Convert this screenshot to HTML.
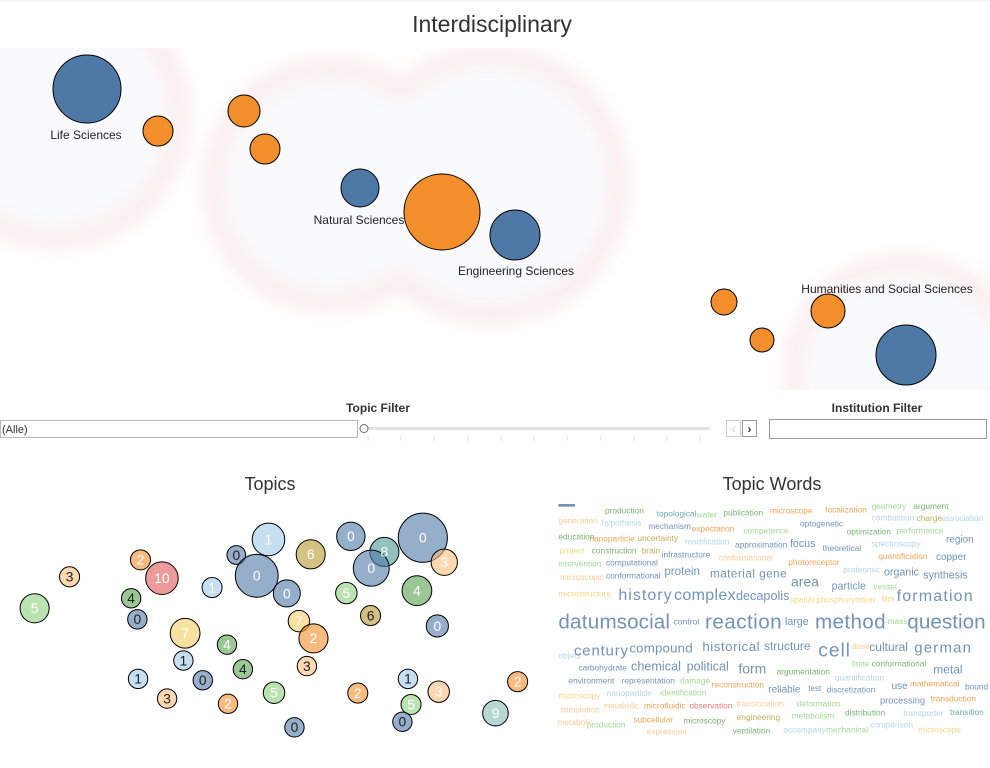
<!DOCTYPE html>
<html><head><meta charset="utf-8"><style>
body{margin:0;background:#fff;width:990px;height:763px;overflow:hidden;font-family:"Liberation Sans",sans-serif}
</style></head><body>
<svg width="990" height="763" xmlns="http://www.w3.org/2000/svg" font-family="Liberation Sans, sans-serif">
<defs>
<filter id="bl" x="-30%" y="-30%" width="160%" height="160%"><feGaussianBlur stdDeviation="9"/></filter>
<clipPath id="mapc"><rect x="0" y="48" width="990" height="342"/></clipPath>
<clipPath id="wc"><rect x="556" y="500" width="434" height="240"/></clipPath>
</defs>
<line x1="0" y1="1" x2="990" y2="1" stroke="#eee"/>
<text x="492" y="32" text-anchor="middle" font-size="23" fill="#333">Interdisciplinary</text>
<g clip-path="url(#mapc)">
 <g filter="url(#bl)">
  <circle cx="55" cy="115" r="135" fill="#fbeded"/>
  <circle cx="330" cy="185" r="128" fill="#fbeded"/>
  <circle cx="490" cy="185" r="140" fill="#fbeded"/>
  <circle cx="905" cy="375" r="122" fill="#fbeded"/>
  <circle cx="55" cy="115" r="115" fill="#f9fafc"/>
  <circle cx="330" cy="185" r="108" fill="#f9fafc"/>
  <circle cx="490" cy="185" r="120" fill="#f9fafc"/>
  <circle cx="905" cy="375" r="103" fill="#f9fafc"/>
 </g>
 <g stroke="#000" stroke-width="1">
  <circle cx="87" cy="89" r="34" fill="#4e79a7"/>
  <circle cx="158" cy="131" r="15" fill="#f28e2b"/>
  <circle cx="244" cy="111" r="16" fill="#f28e2b"/>
  <circle cx="265" cy="149" r="15" fill="#f28e2b"/>
  <circle cx="360" cy="188" r="19" fill="#4e79a7"/>
  <circle cx="442" cy="212" r="38" fill="#f28e2b"/>
  <circle cx="515" cy="235" r="25" fill="#4e79a7"/>
  <circle cx="724" cy="302" r="13" fill="#f28e2b"/>
  <circle cx="762" cy="340" r="12" fill="#f28e2b"/>
  <circle cx="828" cy="311" r="17" fill="#f28e2b"/>
  <circle cx="906" cy="355" r="30" fill="#4e79a7"/>
 </g>
 <g font-size="12" fill="#222">
  <text x="86" y="139" text-anchor="middle">Life Sciences</text>
  <text x="359" y="224" text-anchor="middle">Natural Sciences</text>
  <text x="516" y="275" text-anchor="middle">Engineering Sciences</text>
  <text x="887" y="293" text-anchor="middle">Humanities and Social Sciences</text>
 </g>
</g>
<text x="378" y="412" text-anchor="middle" font-size="12" font-weight="bold" fill="#333">Topic Filter</text>
<text x="877" y="412" text-anchor="middle" font-size="12" font-weight="bold" fill="#333">Institution Filter</text>
<rect x="0.5" y="420.5" width="357" height="17" fill="#fff" stroke="#bbb"/>
<text x="2" y="433" font-size="11" fill="#333">(Alle)</text>
<rect x="366" y="427" width="344" height="3" fill="#e3e3e3"/>
<circle cx="364" cy="428.5" r="4" fill="#fff" stroke="#666"/>
<g stroke="#ddd">
<line x1="368" y1="436" x2="368" y2="441"/><line x1="401" y1="436" x2="401" y2="441"/><line x1="434" y1="436" x2="434" y2="441"/><line x1="468" y1="436" x2="468" y2="441"/><line x1="501" y1="436" x2="501" y2="441"/><line x1="534" y1="436" x2="534" y2="441"/><line x1="567" y1="436" x2="567" y2="441"/><line x1="601" y1="436" x2="601" y2="441"/><line x1="634" y1="436" x2="634" y2="441"/><line x1="667" y1="436" x2="667" y2="441"/><line x1="700" y1="436" x2="700" y2="441"/>
</g>
<rect x="726.5" y="420.5" width="14" height="16" fill="#fff" stroke="#ccc"/>
<text x="733.5" y="433" text-anchor="middle" font-size="12" fill="#ccc">‹</text>
<rect x="742.5" y="420.5" width="14" height="16" fill="#fff" stroke="#999"/>
<text x="749.5" y="433" text-anchor="middle" font-size="12" font-weight="bold" fill="#333">›</text>
<rect x="769.5" y="419.5" width="217" height="19" fill="#fff" stroke="#999"/>
<text x="270" y="490" text-anchor="middle" font-size="18" fill="#333">Topics</text>
<text x="772" y="490" text-anchor="middle" font-size="18" fill="#333">Topic Words</text>
<g transform="translate(0,500) scale(0.346)" stroke="#000" stroke-width="2.9" font-size="40" text-anchor="middle">
<g fill-opacity="0.6">
<circle cx="100" cy="313" r="42" fill="#8cd17d"/>
<circle cx="201" cy="222" r="29" fill="#ffbe7d"/>
<circle cx="406" cy="173" r="29" fill="#f28e2b"/>
<circle cx="468" cy="226" r="47" fill="#e15759"/>
<circle cx="379" cy="284" r="28" fill="#59a14f"/>
<circle cx="397" cy="345" r="28" fill="#4e79a7"/>
<circle cx="613" cy="253" r="29" fill="#a0cbe8"/>
<circle cx="535" cy="385" r="43" fill="#f1ce63"/>
<circle cx="530" cy="464" r="28" fill="#a0cbe8"/>
<circle cx="399" cy="517" r="28" fill="#a0cbe8"/>
<circle cx="483" cy="574" r="28" fill="#ffbe7d"/>
<circle cx="586" cy="521" r="28" fill="#4e79a7"/>
<circle cx="656" cy="418" r="28" fill="#59a14f"/>
<circle cx="702" cy="489" r="28" fill="#59a14f"/>
<circle cx="659" cy="589" r="28" fill="#f28e2b"/>
<circle cx="792" cy="557" r="31" fill="#8cd17d"/>
<circle cx="851" cy="657" r="28" fill="#4e79a7"/>
<circle cx="683" cy="159" r="27" fill="#4e79a7"/>
<circle cx="776" cy="114" r="47" fill="#a0cbe8"/>
<circle cx="742" cy="219" r="62" fill="#4e79a7"/>
<circle cx="829" cy="270" r="39" fill="#4e79a7"/>
<circle cx="898" cy="157" r="42" fill="#b6992d"/>
<circle cx="864" cy="350" r="31" fill="#f1ce63"/>
<circle cx="906" cy="400" r="42" fill="#f28e2b"/>
<circle cx="887" cy="480" r="28" fill="#ffbe7d"/>
<circle cx="1014" cy="105" r="41" fill="#4e79a7"/>
<circle cx="1111" cy="150" r="42" fill="#499894"/>
<circle cx="1073" cy="197" r="52" fill="#4e79a7"/>
<circle cx="1001" cy="269" r="31" fill="#8cd17d"/>
<circle cx="1071" cy="334" r="29" fill="#b6992d"/>
<circle cx="1222" cy="109" r="71" fill="#4e79a7"/>
<circle cx="1284" cy="180" r="38" fill="#ffbe7d"/>
<circle cx="1205" cy="262" r="43" fill="#59a14f"/>
<circle cx="1264" cy="364" r="32" fill="#4e79a7"/>
<circle cx="1034" cy="558" r="29" fill="#f28e2b"/>
<circle cx="1179" cy="517" r="28" fill="#a0cbe8"/>
<circle cx="1188" cy="591" r="29" fill="#8cd17d"/>
<circle cx="1163" cy="641" r="28" fill="#4e79a7"/>
<circle cx="1268" cy="554" r="31" fill="#ffbe7d"/>
<circle cx="1432" cy="616" r="37" fill="#86bcb6"/>
<circle cx="1496" cy="525" r="29" fill="#f28e2b"/>
</g>
<g stroke="none" fill="#fff">
<text x="100" y="327">5</text><text x="468" y="240">10</text><text x="406" y="187">2</text>
<text x="613" y="267">1</text><text x="535" y="399">7</text><text x="656" y="432">4</text>
<text x="792" y="571">5</text><text x="659" y="603">2</text><text x="776" y="128">1</text>
<text x="742" y="233">0</text><text x="829" y="284">0</text><text x="898" y="171">6</text>
<text x="864" y="364">7</text><text x="906" y="414">2</text><text x="1014" y="119">0</text>
<text x="1111" y="164">8</text><text x="1073" y="211">0</text><text x="1001" y="283">5</text>
<text x="1222" y="123">0</text><text x="1284" y="194">3</text><text x="1205" y="276">4</text>
<text x="1264" y="378">0</text><text x="1034" y="572">2</text><text x="1188" y="605">5</text>
<text x="1268" y="568">3</text><text x="1432" y="630">9</text><text x="1496" y="539">2</text>
</g>
<g stroke="none" fill="#222">
<text x="201" y="236">3</text><text x="379" y="298">4</text><text x="397" y="359">0</text>
<text x="530" y="478">1</text><text x="399" y="531">1</text><text x="483" y="588">3</text>
<text x="586" y="535">0</text><text x="702" y="503">4</text><text x="851" y="671">0</text>
<text x="683" y="173">0</text><text x="887" y="494">3</text><text x="1071" y="348">6</text>
<text x="1179" y="531">1</text><text x="1163" y="655">0</text>
</g>
</g>
<g clip-path="url(#wc)"><g transform="translate(550,495) scale(0.3333)" opacity="0.8" font-size="25">
<rect x="25" y="27" width="50" height="8" fill="#4e79a7"/>
<g fill="#59a14f"><text x="165" y="55">production</text><text x="520" y="62">publication</text><text x="1090" y="42">argument</text><text x="125" y="175">construction</text><text x="890" y="118">optimization</text><text x="580" y="115" fill="#8cd17d">competence</text><text x="680" y="538">argumentation</text><text x="965" y="514" fill="#59a14f">conformational</text><text x="400" y="685">microscopy</text><text x="885" y="662">distribution</text><text x="548" y="716">ventilation</text><text x="740" y="635" fill="#8cd17d">deformation</text><text x="725" y="670" fill="#8cd17d">metabolism</text><text x="110" y="697" fill="#8cd17d">production</text><text x="330" y="602" fill="#8cd17d">identification</text><text x="390" y="566" fill="#8cd17d">damage</text><text x="828" y="712" fill="#8cd17d">mechanical</text><text x="905" y="514" fill="#8cd17d">finite</text><text x="1013" y="387" fill="#8cd17d">mass</text><text x="25" y="215" fill="#8cd17d">intervention</text><text x="965" y="42" fill="#8cd17d">geometry</text><text x="1040" y="115" fill="#8cd17d">performance</text><text x="970" y="283" fill="#8cd17d">vessel</text></g>
<g fill="#499894"><text x="320" y="65">topological</text><text x="440" y="68" fill="#8cd17d">water</text><text x="1200" y="660">transition</text></g>
<g fill="#f28e2b"><text x="660" y="55">microscope</text><text x="827" y="52">localization</text><text x="425" y="110">expectation</text><text x="118" y="140">nanoparticle</text><text x="715" y="210">photoreceptor</text><text x="985" y="192">quantification</text><text x="1080" y="575">mathematical</text><text x="1142" y="620">transduction</text><text x="250" y="683">subcellular</text><text x="282" y="640">microfluidic</text><text x="485" y="578">reconstruction</text><text x="1100" y="78" fill="#b6992d">charge</text><text x="995" y="320" fill="#f1ce63">film</text></g>
<g fill="#ffbe7d"><text x="25" y="85">generation</text><text x="505" y="197">conformational</text><text x="30" y="255">microscopic</text><text x="720" y="323" fill="#f1ce63">spatial phosphorylation</text><text x="160" y="640">metabolic</text><text x="560" y="635">translocation</text><text x="290" y="718">expression</text><text x="30" y="652">stimulation</text><text x="25" y="610" fill="#f1ce63">microscopy</text><text x="905" y="462">dose</text><text x="25" y="305" fill="#f1ce63">microstructure</text><text x="28" y="176" fill="#f1ce63">project</text><text x="262" y="138" fill="#b6992d">uncertainty</text><text x="275" y="175" fill="#b6992d">brain</text><text x="560" y="675" fill="#b6992d">engineering</text><text x="1105" y="713" fill="#f1ce63">microscope</text><text x="22" y="690">metabolic</text><text x="25" y="133" fill="#59a14f">education</text></g>
<g fill="#a0cbe8"><text x="155" y="92">hypothesis</text><text x="405" y="148">modification</text><text x="965" y="155">spectroscopy</text><text x="1175" y="78">association</text><text x="880" y="233">proteomic</text><text x="965" y="77">combustion</text><text x="855" y="557">quantification</text><text x="170" y="603">nanoparticle</text><text x="1060" y="663">transporter</text><text x="700" y="712">accompany</text><text x="960" y="698">comparison</text><text x="25" y="490">object</text><text x="418" y="640" fill="#e15759">observation</text></g>
<g fill="#4e79a7"><text x="295" y="102">mechanism</text><text x="750" y="95">optogenetic</text><text x="555" y="158">approximation</text><text x="818" y="168">theoretical</text><text x="335" y="188">infrastructure</text><text x="168" y="212">computational</text><text x="168" y="250">conformational</text><text x="85" y="527">carbohydrate</text><text x="55" y="565">environment</text><text x="215" y="565">representation</text><text x="830" y="592">discretization</text><text x="1245" y="584">bound</text></g>
<g fill="#4e79a7">
<text x="720" y="156" font-size="32">focus</text>
<text x="1188" y="142" font-size="30">region</text>
<text x="1158" y="195" font-size="30">copper</text>
<text x="343" y="240" font-size="35">protein</text>
<text x="480" y="247" font-size="35" textLength="230">material gene</text>
<text x="1002" y="242" font-size="32">organic</text>
<text x="1120" y="250" font-size="32">synthesis</text>
<text x="723" y="275" font-size="42">area</text>
<text x="845" y="283" font-size="32">particle</text>
<text x="205" y="315" font-size="48" textLength="160">history</text>
<text x="372" y="315" font-size="48" textLength="185">complex</text>
<text x="558" y="315" font-size="38">decapolis</text>
<text x="1040" y="318" font-size="48" textLength="228">formation</text>
<text x="25" y="400" font-size="62" textLength="175">datum</text>
<text x="200" y="400" font-size="62" textLength="160">social</text>
<text x="370" y="388" font-size="26">control</text>
<text x="465" y="400" font-size="62" textLength="230">reaction</text>
<text x="705" y="390" font-size="32">large</text>
<text x="795" y="400" font-size="62" textLength="212">method</text>
<text x="1072" y="400" font-size="62" textLength="235">question</text>
<text x="72" y="482" font-size="45" textLength="162">century</text>
<text x="238" y="472" font-size="40" textLength="190">compound</text>
<text x="457" y="468" font-size="40" textLength="172">historical</text>
<text x="642" y="465" font-size="36">structure</text>
<text x="805" y="485" font-size="58" textLength="95">cell</text>
<text x="958" y="468" font-size="36">cultural</text>
<text x="1093" y="472" font-size="45" textLength="170">german</text>
<text x="243" y="527" font-size="38">chemical</text>
<text x="410" y="527" font-size="38">political</text>
<text x="565" y="535" font-size="42">form</text>
<text x="1150" y="535" font-size="36">metal</text>
<text x="655" y="592" font-size="30">reliable</text>
<text x="775" y="588" font-size="24">test</text>
<text x="1025" y="582" font-size="30">use</text>
<text x="990" y="625" font-size="28">processing</text>
</g>
</g></g>
</svg>
</body></html>
